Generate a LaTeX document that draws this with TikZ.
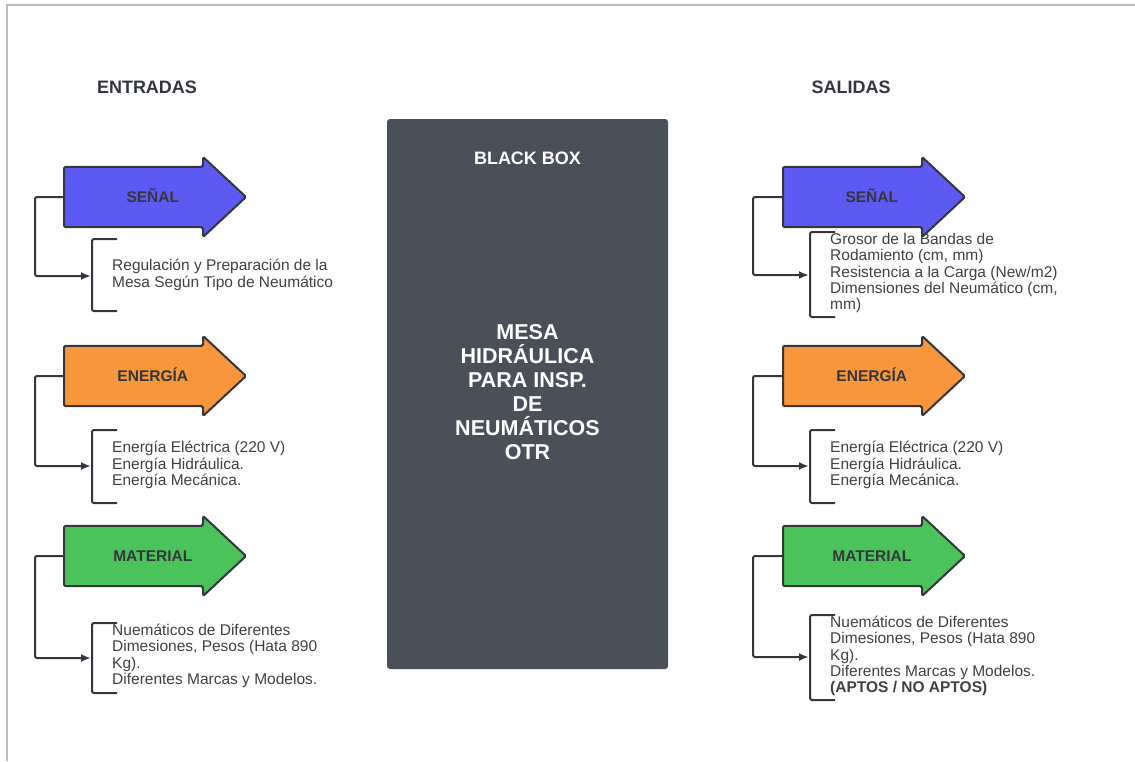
\documentclass[tikz,border=0pt]{standalone}
\usepackage{fontspec}
\setmainfont{Liberation Sans}
\usetikzlibrary{positioning,shapes.arrows,arrows.meta}
\definecolor{boxgray}{HTML}{4A5058}
\definecolor{senalblue}{HTML}{5C5AF3}
\definecolor{energyorange}{HTML}{F7963B}
\definecolor{matgreen}{HTML}{4CC25B}
\definecolor{edgegray}{HTML}{33373D}
\definecolor{txtgray}{HTML}{404040}
\definecolor{framegray}{HTML}{BBBBBB}
\tikzset{flow/.style={single arrow,anchor=tail,draw=edgegray,line width=2pt,rounded corners=1.5pt,
           minimum height=182pt,minimum width=80pt,text height=12pt,text depth=1pt,
           inner xsep=0pt,inner ysep=14.5pt,single arrow tip angle=86,text=edgegray,
           font=\bfseries\fontsize{15.5}{17}\selectfont},
         desc/.style={anchor=west,align=left,inner sep=0pt,text=txtgray,
           font=\fontsize{15.5}{16.3}\selectfont},
         head/.style={text=edgegray,font=\bfseries\fontsize{18}{21}\selectfont},
         bbox/.style={fill=boxgray,rounded corners=3pt,minimum width=281pt,minimum height=550pt},
         line/.style={-{Latex[length=10pt,width=8pt]},line width=2pt,draw=edgegray,rounded corners=2pt},
         brace/.style={line width=2pt,draw=edgegray,rounded corners=2pt}
}
\begin{document}
\begin{tikzpicture}[x=1pt,y=-1pt]
\useasboundingbox (0,0) rectangle (1135,761);
\draw[framegray,line width=1.5pt] (7,761) -- (7,5) -- (1135,5);

\node[head] (entradas) at (147,87) {ENTRADAS};
\node[head] (salidas) at (851,87) {SALIDAS};

% black box
\node[bbox] (box) at (527.5,394) {};
\node[text=white,font=\bfseries\fontsize{18}{21}\selectfont] (bbtitle) at (527.5,158) {BLACK BOX};
\node[text=white,align=center,font=\bfseries\fontsize{21.5}{24}\selectfont] (bbname) at (527.5,392)
  {MESA\\HIDRÁULICA\\PARA INSP.\\DE\\NEUMÁTICOS\\OTR};

% entradas
\node[flow,fill=senalblue] (senalin) at (63,197) {\hspace*{28pt}SEÑAL};
\node[flow,fill=energyorange] (energiain) at (63,376) {\hspace*{28pt}ENERGÍA};
\node[flow,fill=matgreen] (materialin) at (63,556) {\hspace*{28pt}MATERIAL};

\node[desc] (senalintxt) at (112,275) {Regulación y Preparación de la\\Mesa Según Tipo de Neumático};
\node[desc] (energiaintxt) at (112,465) {Energía Eléctrica (220 V)\\Energía Hidráulica.\\Energía Mecánica.};
\node[desc] (materialintxt) at (112,656) {Nuemáticos de Diferentes\\Dimesiones, Pesos (Hata 890\\Kg).\\Diferentes Marcas y Modelos.};

% salidas
\node[flow,fill=senalblue] (senalout) at (782,197) {\hspace*{28pt}SEÑAL};
\node[flow,fill=energyorange] (energiaout) at (782,376) {\hspace*{28pt}ENERGÍA};
\node[flow,fill=matgreen] (materialout) at (782,556) {\hspace*{28pt}MATERIAL};

\node[desc] (senalouttxt) at (830,273) {Grosor de la Bandas de\\Rodamiento (cm, mm)\\Resistencia a la Carga (New/m2)\\Dimensiones del Neumático (cm,\\mm)};
\node[desc] (energiaouttxt) at (830,465) {Energía Eléctrica (220 V)\\Energía Hidráulica.\\Energía Mecánica.};
\node[desc] (materialouttxt) at (830,656) {Nuemáticos de Diferentes\\Dimesiones, Pesos (Hata 890\\Kg).\\Diferentes Marcas y Modelos.\\\textbf{(APTOS / NO APTOS)}};

% brackets
\draw[brace] (117,239) -- (92,239) -- (92,311) -- (117,311);
\draw[brace] (117,430) -- (92,430) -- (92,503) -- (117,503);
\draw[brace] (117,623) -- (92,623) -- (92,693) -- (117,693);
\draw[brace] (835,232) -- (810,232) -- (810,317) -- (835,317);
\draw[brace] (835,430) -- (810,430) -- (810,503) -- (835,503);
\draw[brace] (835,615) -- (810,615) -- (810,700) -- (835,700);
\coordinate (senalinb) at (91,276);
\coordinate (energiainb) at (91,466);
\coordinate (materialinb) at (91,658);
\coordinate (senaloutb) at (809,275);
\coordinate (energiaoutb) at (809,466);
\coordinate (materialoutb) at (809,657);

\draw[line] (senalin.tail) -- ++(-28,0) |- (senalinb);
\draw[line] (energiain.tail) -- ++(-28,0) |- (energiainb);
\draw[line] (materialin.tail) -- ++(-28,0) |- (materialinb);
\draw[line] (senalout.tail) -- ++(-29,0) |- (senaloutb);
\draw[line] (energiaout.tail) -- ++(-29,0) |- (energiaoutb);
\draw[line] (materialout.tail) -- ++(-29,0) |- (materialoutb);

\end{tikzpicture}
\end{document}
